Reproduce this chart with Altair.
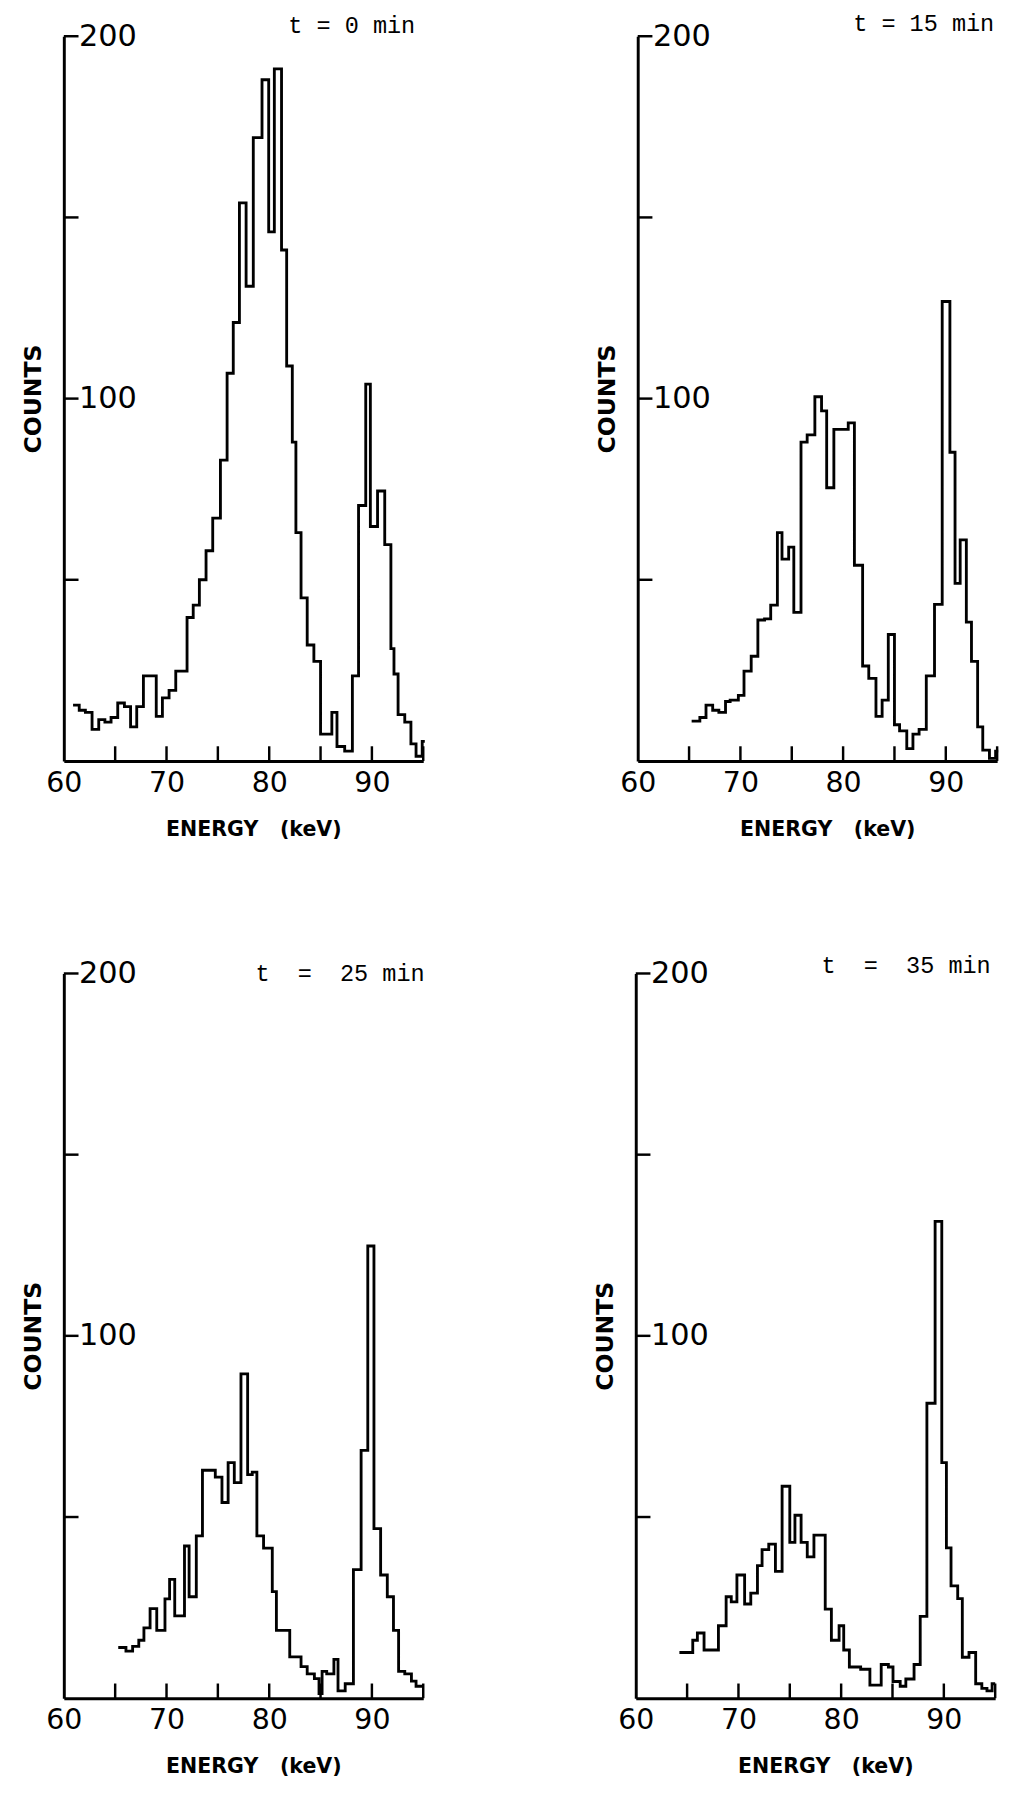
import altair as alt
import pandas as pd

# ---------------- data (bin edges in keV, counts per bin) ----------------
E0 = [60.9, 61.5, 62.1, 62.75, 63.4, 64.0, 64.6, 65.25, 65.9, 66.5,
      67.1, 67.75, 69.0, 69.6, 70.25, 70.9, 72.0, 72.6, 73.2, 73.85,
      74.5, 75.25, 75.9, 76.5, 77.1, 77.75, 78.45, 79.3, 79.95, 80.5,
      81.2, 81.7, 82.25, 82.6, 83.1, 83.7, 84.35, 85.0, 86.1, 86.6,
      87.35, 88.1, 88.7, 89.4, 89.85, 90.55, 91.25, 91.85, 92.15, 92.55,
      93.2, 93.8, 94.3, 94.9, 95.15]
C0 = [15.4, 14, 13.4, 8.7, 11.4, 10.7, 12, 16, 15, 9.4,
      15, 23.5, 12.3, 17.4, 19.5, 24.8, 39.6, 43, 50, 58,
      67, 83, 107, 121, 154, 131, 172, 188, 146, 191,
      141, 109, 88, 63, 45, 32, 27.5, 7.4, 13.4, 4,
      2.7, 23.5, 70.5, 104, 64.7, 74.5, 59.7, 31, 24, 12.8,
      10.7, 4.7, 1.3, 5.4]

E1 = [65.25, 66.05, 66.65, 67.3, 67.9, 68.55, 69.0, 69.8, 70.35, 71.05,
      71.7, 72.35, 72.95, 73.6, 74.05, 74.7, 75.2, 75.9, 76.5, 77.25,
      77.9, 78.4, 79.1, 80.5, 81.1, 81.9, 82.5, 83.2, 83.8, 84.4,
      85.0, 85.5, 86.2, 86.8, 87.4, 88.1, 88.9, 89.65, 90.4, 90.9,
      91.4, 92.0, 92.5, 93.1, 93.6, 94.25, 94.85, 95.1]
C1 = [11, 12, 15.4, 14, 13.4, 16.4, 16.8, 18.1, 24.8, 28.9,
      38.9, 39.2, 43, 63, 55.7, 59, 41, 88, 90, 100.5,
      96.6, 75.4, 91.5, 93.3, 54, 26.2, 22.8, 12.3, 16.8, 34.9,
      10, 8.3, 3.4, 7.4, 8.7, 23.5, 43.2, 126.8, 85.2, 49,
      61, 38.3, 27.5, 9.4, 3, 0.7, 2.7]

E2 = [65.3, 66.05, 66.7, 67.3, 67.8, 68.4, 69.05, 69.85, 70.3, 70.8,
      71.75, 72.2, 72.9, 73.5, 74.75, 75.4, 76.0, 76.6, 77.25, 77.9,
      78.35, 78.8, 79.45, 80.3, 80.7, 82.0, 83.1, 83.7, 84.4, 84.85,
      85.15, 85.6, 86.3, 86.7, 87.4, 88.2, 88.95, 89.6, 90.2, 90.85,
      91.5, 92.1, 92.6, 93.2, 93.85, 94.3, 95.0]
C2 = [14, 13, 14.3, 16, 19.4, 24.7, 18.7, 27.4, 32.8, 22.7,
      42, 28, 44.8, 62.9, 61, 54, 65, 59.5, 89.5, 61.7,
      62.4, 44.8, 41.4, 29.4, 18.7, 11.4, 8.7, 6.7, 5.4, 1.3,
      7.4, 6.7, 10.7, 2, 4, 35.5, 68.4, 124.8, 46.8, 34,
      28, 18.7, 7.4, 6.7, 4.7, 3.3]

E3 = [64.25, 65.55, 66.0, 66.65, 68.05, 68.8, 69.3, 69.85, 70.6, 71.2,
      71.85, 72.3, 72.95, 73.6, 74.25, 75.0, 75.5, 76.1, 76.7, 77.35,
      78.45, 79.05, 79.8, 80.25, 80.8, 81.9, 82.8, 83.9, 84.6, 85.05,
      85.75, 86.3, 87.1, 87.7, 88.35, 89.15, 89.8, 90.25, 90.7, 91.35,
      91.8, 92.45, 93.1, 93.7, 94.2, 94.7, 95.0]
C3 = [12.6, 16, 18, 13.3, 20, 28, 26.6, 34, 26, 29,
      36.6, 41, 42.5, 35, 58.5, 43, 50.5, 43, 39, 45,
      24.6, 16, 20, 13.3, 8.6, 8, 3.6, 9.3, 8.6, 4.6,
      3.3, 5.3, 9.3, 22.6, 81.4, 131.6, 65, 41.5, 31, 27.5,
      11.3, 12.6, 4, 2.7, 2, 4]

TITLES = ["t = 0 min", "t = 15 min",
          "t\u00a0\u00a0=\u00a0\u00a025 min", "t\u00a0\u00a0=\u00a0\u00a035 min"]
X_TICKS = [65, 70, 75, 80, 85, 90, 95]
X_LABELS = [60, 70, 80, 90]
Y_TICKS = [50, 100, 150, 200]
Y_LABELS = [100, 200]

W, H = 367, 740
SANS = "DejaVu Sans"
MONO = "Liberation Mono"

XS = alt.Scale(domain=[60, 95], nice=False, zero=False)
YS = alt.Scale(domain=[0, 200], nice=False)
XAXIS = alt.Axis(values=X_LABELS, ticks=False, grid=False,
                 domainColor="black", domainWidth=3,
                 labelFont=SANS, labelFontSize=29, labelColor="black",
                 labelPadding=8, labelFlush=False,
                 title="ENERGY\u00a0\u00a0\u00a0(keV)", titleFont=SANS,
                 titleFontSize=21, titleFontWeight="bold", titleColor="black",
                 titlePadding=22, titleX=W / 2 + 10)
YAXIS = alt.Axis(values=Y_LABELS, ticks=False, grid=False,
                 domainColor="black", domainWidth=3,
                 labelFont=SANS, labelFontSize=31, labelColor="black",
                 labelAlign="left", labelBaseline="middle", labelPadding=-15,
                 labelFlush=False,
                 title="COUNTS", titleFont=SANS, titleFontSize=24,
                 titleFontWeight="bold", titleColor="black",
                 titleAngle=-90, titleX=-31, titleY=H / 2,
                 titleAlign="center", titleBaseline="middle")


def steps(edges, counts):
    rows = [{"e": e, "c": c} for e, c in zip(edges[:-1], counts)]
    rows.append({"e": edges[-1], "c": counts[-1]})
    return pd.DataFrame(rows)


def panel(edges, counts, title, tx, ty):
    line = alt.Chart(steps(edges, counts)).mark_line(
        interpolate="step-after", color="black", strokeWidth=2.9
    ).encode(
        x=alt.X("e:Q", scale=XS, axis=XAXIS),
        y=alt.Y("c:Q", scale=YS, axis=YAXIS),
    )
    xt = alt.Chart(pd.DataFrame({"v": X_TICKS})).mark_rule(
        color="black", strokeWidth=2.5
    ).encode(x=alt.X("v:Q", scale=XS, axis=XAXIS), y=alt.value(H), y2=alt.value(H - 15))
    yt = alt.Chart(pd.DataFrame({"v": Y_TICKS})).mark_rule(
        color="black", strokeWidth=2.5
    ).encode(y=alt.Y("v:Q", scale=YS, axis=YAXIS), x=alt.value(0), x2=alt.value(15))
    tt = alt.Chart(pd.DataFrame({"t": [title]})).mark_text(
        font=MONO, fontSize=24, color="black", align="center", baseline="alphabetic"
    ).encode(text="t:N", x=alt.value(tx), y=alt.value(ty))
    return alt.layer(line, xt, yt, tt).properties(width=W, height=H)


p1 = panel(E0, C0, TITLES[0], 294, -3)
p2 = panel(E1, C1, TITLES[1], 292, -5)
p3 = panel(E2, C2, TITLES[2], 282, 8)
p4 = panel(E3, C3, TITLES[3], 276, 0)

row1 = alt.hconcat(p1, p2, spacing=168)
row2 = alt.hconcat(p3, p4, spacing=168)
chart = alt.vconcat(row1, row2, spacing=118).configure_view(stroke=None).properties(
    padding={"left": 14, "top": -14, "right": 0, "bottom": 0},
    background="white",
)

chart.save("out.html", embed_options={"renderer": "svg", "actions": False})
